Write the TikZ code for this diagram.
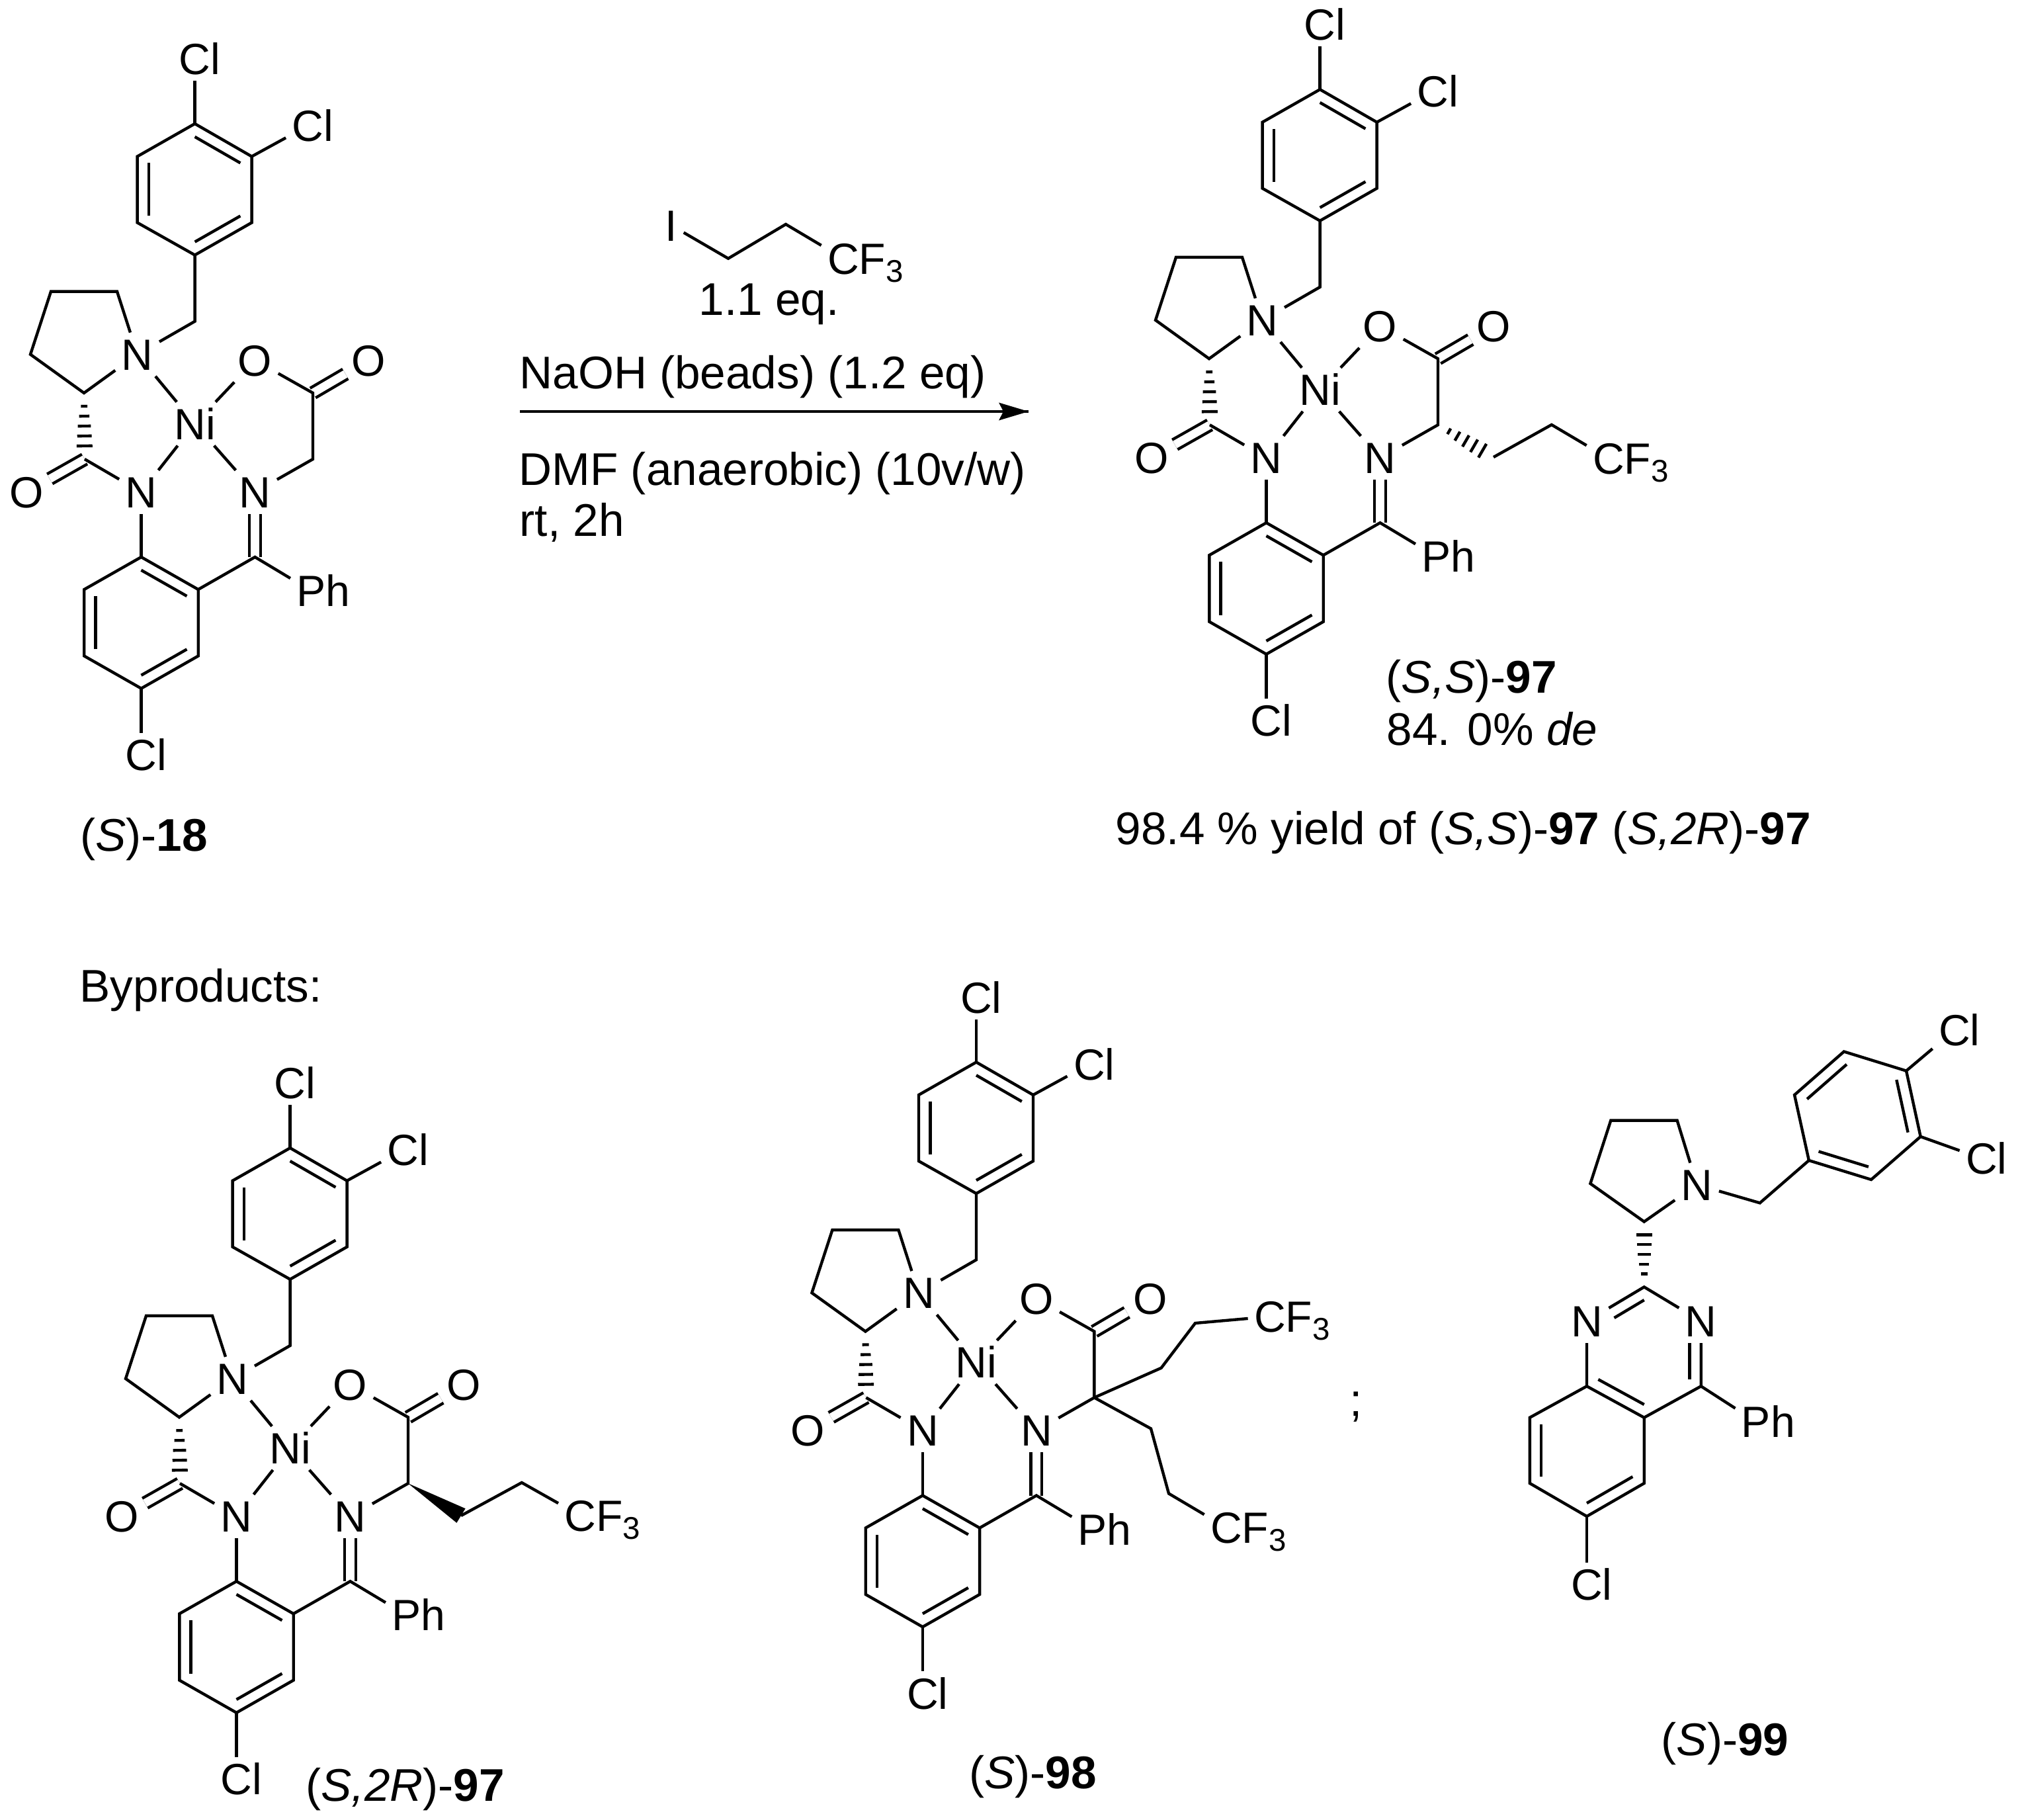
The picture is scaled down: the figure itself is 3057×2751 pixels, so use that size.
\documentclass[tikz,border=0pt]{standalone}
\usepackage{fontspec}
\setmainfont{Liberation Sans}
\usetikzlibrary{calc}
\newcommand{\cfthree}{C\rlap{F\raisebox{-3.5pt}{\fontsize{13.5pt}{14pt}\selectfont 3}}}
\tikzset{
  bond/.style={black,line width=1.25pt},
  dbond/.style={bond,double,double distance=3.5pt},
  atom/.style={font=\fontsize{18.8pt}{22pt}\selectfont,inner sep=2.5pt,text height=13.4pt,text depth=0pt},
  txt/.style={font=\fontsize{19.7pt}{23pt}\selectfont,inner sep=0pt,anchor=base west},
  nicore/.pic={
    % dichlorophenyl
    \coordinate (-c4) at (294.6,-187);
    \coordinate (-c3) at (380.6,-236.5);
    \coordinate (-c2) at (380.6,-336.5);
    \coordinate (-c1) at (294.6,-385.5);
    \coordinate (-c6) at (207.6,-336.5);
    \coordinate (-c5) at (207.6,-236.5);
    \coordinate (-r1) at (294.6,-286);
    \node[atom] (-cl1) at (294.6,-89) {C\rlap{l}};
    \node[atom] (-cl2) at (465.5,-190) {C\rlap{l}};
    \coordinate (-ch2) at (294.6,-485.7);
    % pyrrolidine
    \node[atom] (-npy) at (207.6,-535.7) {N};
    \coordinate (-py1) at (177,-440.6);
    \coordinate (-py2) at (77,-440.6);
    \coordinate (-py3) at (46,-535.7);
    \coordinate (-py4) at (127,-594);
    % chelate
    \node[atom] (-ni) at (294.6,-640.6) {Ni};
    \node[atom] (-oa) at (385.5,-544.6) {O};
    \node[atom] (-ob) at (557.5,-544.6) {O};
    \coordinate (-cc) at (473,-594);
    \coordinate (-ca) at (473,-694);
    \coordinate (-cm) at (128,-694);
    \node[atom] (-om) at (40,-743.8) {O};
    \node[atom] (-nm) at (213.5,-743.8) {N};
    \node[atom] (-ni2) at (385.5,-743.8) {N};
    % chloroaryl
    \coordinate (-a1) at (213.5,-842);
    \coordinate (-a2) at (299.7,-891);
    \coordinate (-a3) at (299.7,-991.5);
    \coordinate (-a4) at (213.5,-1040.6);
    \coordinate (-a5) at (127.3,-991.5);
    \coordinate (-a6) at (127.3,-891);
    \coordinate (-r2) at (213.5,-941);
    \coordinate (-ci) at (385.5,-842);
    \node[atom] (-ph) at (470.5,-893) {P\rlap{h}};
    \node[atom] (-cl3) at (213.5,-1141) {C\rlap{l}};
    \draw[dbond] (-cc) -- (-ob);
    \draw[dbond] (-cm) -- (-om);
    \draw[dbond] (-ci) -- (-ni2);
    \draw[bond] (-c4) -- (-c3) -- (-c2) -- (-c1) -- (-c6) -- (-c5) -- cycle;
    \ringbond{-c4}{-c3}{-r1}
    \ringbond{-c2}{-c1}{-r1}
    \ringbond{-c6}{-c5}{-r1}
    \draw[bond] (-c4) -- (-cl1);
    \draw[bond] (-c3) -- (-cl2);
    \draw[bond] (-c1) -- (-ch2) -- (-npy);
    \draw[bond] (-npy) -- (-py1) -- (-py2) -- (-py3) -- (-py4) -- (-npy);
    \draw[bond] (-npy) -- (-ni);
    \draw[bond] (-ni) -- (-oa);
    \draw[bond] (-oa) -- (-cc) -- (-ca) -- (-ni2);
    \draw[bond] (-ni) -- (-ni2);
    \draw[bond] (-ni) -- (-nm);
    \draw[bond] (-cm) -- (-nm);
    \hashbond{-py4}{-cm}
    \draw[bond] (-nm) -- (-a1);
    \draw[bond] (-a1) -- (-a2) -- (-a3) -- (-a4) -- (-a5) -- (-a6) -- cycle;
    \ringbond{-a1}{-a2}{-r2}
    \ringbond{-a3}{-a4}{-r2}
    \ringbond{-a5}{-a6}{-r2}
    \draw[bond] (-a2) -- (-ci) -- (-ph);
    \draw[bond] (-a4) -- (-cl3);
  }
}
\newcommand{\ringbond}[3]{\draw[bond] ($(#1)!.2!(#3)$) -- ($(#2)!.2!(#3)$);}
\newcommand{\hashbond}[2]{\foreach \t/\w in {.2/1.4,.35/2.2,.5/2.8,.65/3.1,.8/3.4}
  \draw[bond] ($(#1)!\t!(#2)!\w pt!90:(#2)$) -- ($(#1)!\t!(#2)!\w pt!-90:(#2)$);}
\begin{document}
\begin{tikzpicture}[x=0.01cm,y=0.01cm]
\useasboundingbox (0,0) rectangle (3057,-2751);
% (S)-18
\pic (sm) at (0,0) {nicore};
\node[txt] (lsm) at (120.5,-1286) {(\textit{S})-\textbf{18}};
% reagent and arrow
\node[atom] (ia) at (1015,-340.7) {I};
\coordinate (ra) at (1101,-390.7);
\coordinate (rb) at (1188,-339);
\node[atom] (rf) at (1275,-390.7) {\cfthree};
\draw[bond] (ia) -- (ra) -- (rb) -- (rf);
\node[txt] (eq1) at (1056,-476) {1.1 eq.};
\node[txt] (naoh) at (785,-587) {NaOH (beads) (1.2 eq)};
\coordinate (ar1) at (786,-622);
\coordinate (ar2) at (1555,-622);
\draw[black,line width=1.4pt] (ar1) -- (ar2);
\fill[black] (ar2) -- ++(-45,13.5) -- ++(7,-13.5) -- ++(-7,-13.5) -- cycle;
\node[txt] (dmf) at (784,-733) {DMF (anaerobic) (10v/w)};
\node[txt] (rt) at (785,-810) {rt, 2h};
% (S,S)-97
\pic (ss) at (1701,51.8) {nicore};
\coordinate (ssa) at (2258,-691);
\coordinate (ssb) at (2345.8,-642);
\node[atom] (ssf) at (2432,-693) {\cfthree};
\hashbond{ss-ca}{ssa}
\draw[bond] (ssa) -- (ssb) -- (ssf);
\node[txt] (lss) at (2095,-1047) {(\textit{S,S})-\textbf{97}};
\node[txt] (lde) at (2096,-1126) {84. 0\% \textit{de}};
\node[txt] (lyield) at (1686,-1276) {98.4 \% yield of (\textit{S,S})-\textbf{97} (\textit{S,2R})-\textbf{97}};
\node[txt] (lby) at (120,-1514) {Byproducts:};
% (S,2R)-97
\pic (sr) at (144,-1548.2) {nicore};
\coordinate (sra) at (697,-2291);
\coordinate (srb) at (788.8,-2241);
\node[atom] (srf) at (877.4,-2291) {\cfthree};
\fill[black] (sr-ca) -- ($(sra)!3.6pt!90:(sr-ca)$) -- ($(sra)!3.6pt!-90:(sr-ca)$) -- cycle;
\draw[bond] (sra) -- (srb) -- (srf);
\node[txt] (lsr) at (462,-2722) {(\textit{S,2R})-\textbf{97}};
% (S)-98
\pic (bis) at (1181.4,-1418.5) {nicore};
\coordinate (bua) at (1755.6,-2067.7);
\coordinate (bub) at (1807,-2000);
\node[atom] (buf) at (1920,-1990) {\cfthree};
\coordinate (bla) at (1740,-2159.4);
\coordinate (blb) at (1767,-2257.5);
\node[atom] (blf) at (1854,-2309) {\cfthree};
\draw[bond] (bis-ca) -- (bua) -- (bub) -- (buf);
\draw[bond] (bis-ca) -- (bla) -- (blb) -- (blf);
\node[txt] (lbis) at (1464.6,-2703) {(\textit{S})-\textbf{98}};
\node[txt] (semi) at (2040,-2140) {;};
% (S)-99
\node[atom] (qcla) at (2955,-1557) {C\rlap{l}};
\node[atom] (qclb) at (2996,-1751) {C\rlap{l}};
\coordinate (qa) at (2787.8,-1589.5);
\coordinate (qb) at (2882,-1618.6);
\coordinate (qc) at (2903.6,-1718);
\coordinate (qd) at (2829,-1783);
\coordinate (qe) at (2734.8,-1754);
\coordinate (qf) at (2713,-1655);
\coordinate (qr) at (2808.4,-1686.3);
\coordinate (qch) at (2660.7,-1818.3);
\node[atom] (qn) at (2565.5,-1790.7) {N};
\coordinate (qp1) at (2535.6,-1693.6);
\coordinate (qp2) at (2435.3,-1693.6);
\coordinate (qp3) at (2404.4,-1789);
\coordinate (qp4) at (2485.7,-1846.6);
\coordinate (qc2) at (2485.7,-1945.3);
\node[atom] (qn1) at (2399,-1997) {N};
\node[atom] (qn3) at (2571.7,-1997) {N};
\coordinate (qc4) at (2571.7,-2095.3);
\coordinate (qc4a) at (2485.7,-2142.7);
\coordinate (qc8a) at (2399,-2095.3);
\coordinate (qc5) at (2485.7,-2242);
\coordinate (qc6) at (2399,-2292);
\coordinate (qc7) at (2312.8,-2242);
\coordinate (qc8) at (2312.8,-2142.7);
\coordinate (qr2) at (2485.7,-2044);
\coordinate (qr3) at (2399,-2192.3);
\node[atom] (qph) at (2655,-2149) {P\rlap{h}};
\node[atom] (qcl) at (2399,-2395) {C\rlap{l}};
\draw[bond] (qa) -- (qb) -- (qc) -- (qd) -- (qe) -- (qf) -- cycle;
\ringbond{qf}{qa}{qr}
\ringbond{qb}{qc}{qr}
\ringbond{qd}{qe}{qr}
\draw[bond] (qb) -- (qcla);
\draw[bond] (qc) -- (qclb);
\draw[bond] (qe) -- (qch) -- (qn);
\draw[bond] (qn) -- (qp1) -- (qp2) -- (qp3) -- (qp4) -- (qn);
\hashbond{qc2}{qp4}
\draw[bond] (qn1) -- (qc2) -- (qn3);
\draw[bond] (qn3) -- (qc4) -- (qc4a) -- (qc8a) -- (qn1);
\draw[bond,shorten <=8pt] ($(qn1)!.2!(qr2)$) -- ($(qc2)!.2!(qr2)$);
\draw[bond,shorten <=6.6pt] ($(qn3)!.2!(qr2)$) -- ($(qc4)!.2!(qr2)$);
\ringbond{qc8a}{qc4a}{qr2}
\draw[bond] (qc4a) -- (qc5) -- (qc6) -- (qc7) -- (qc8) -- (qc8a);
\ringbond{qc5}{qc6}{qr3}
\ringbond{qc7}{qc8}{qr3}
\draw[bond] (qc4) -- (qph);
\draw[bond] (qc6) -- (qcl);
\node[txt] (lq) at (2511,-2653) {(\textit{S})-\textbf{99}};
\end{tikzpicture}
\end{document}
